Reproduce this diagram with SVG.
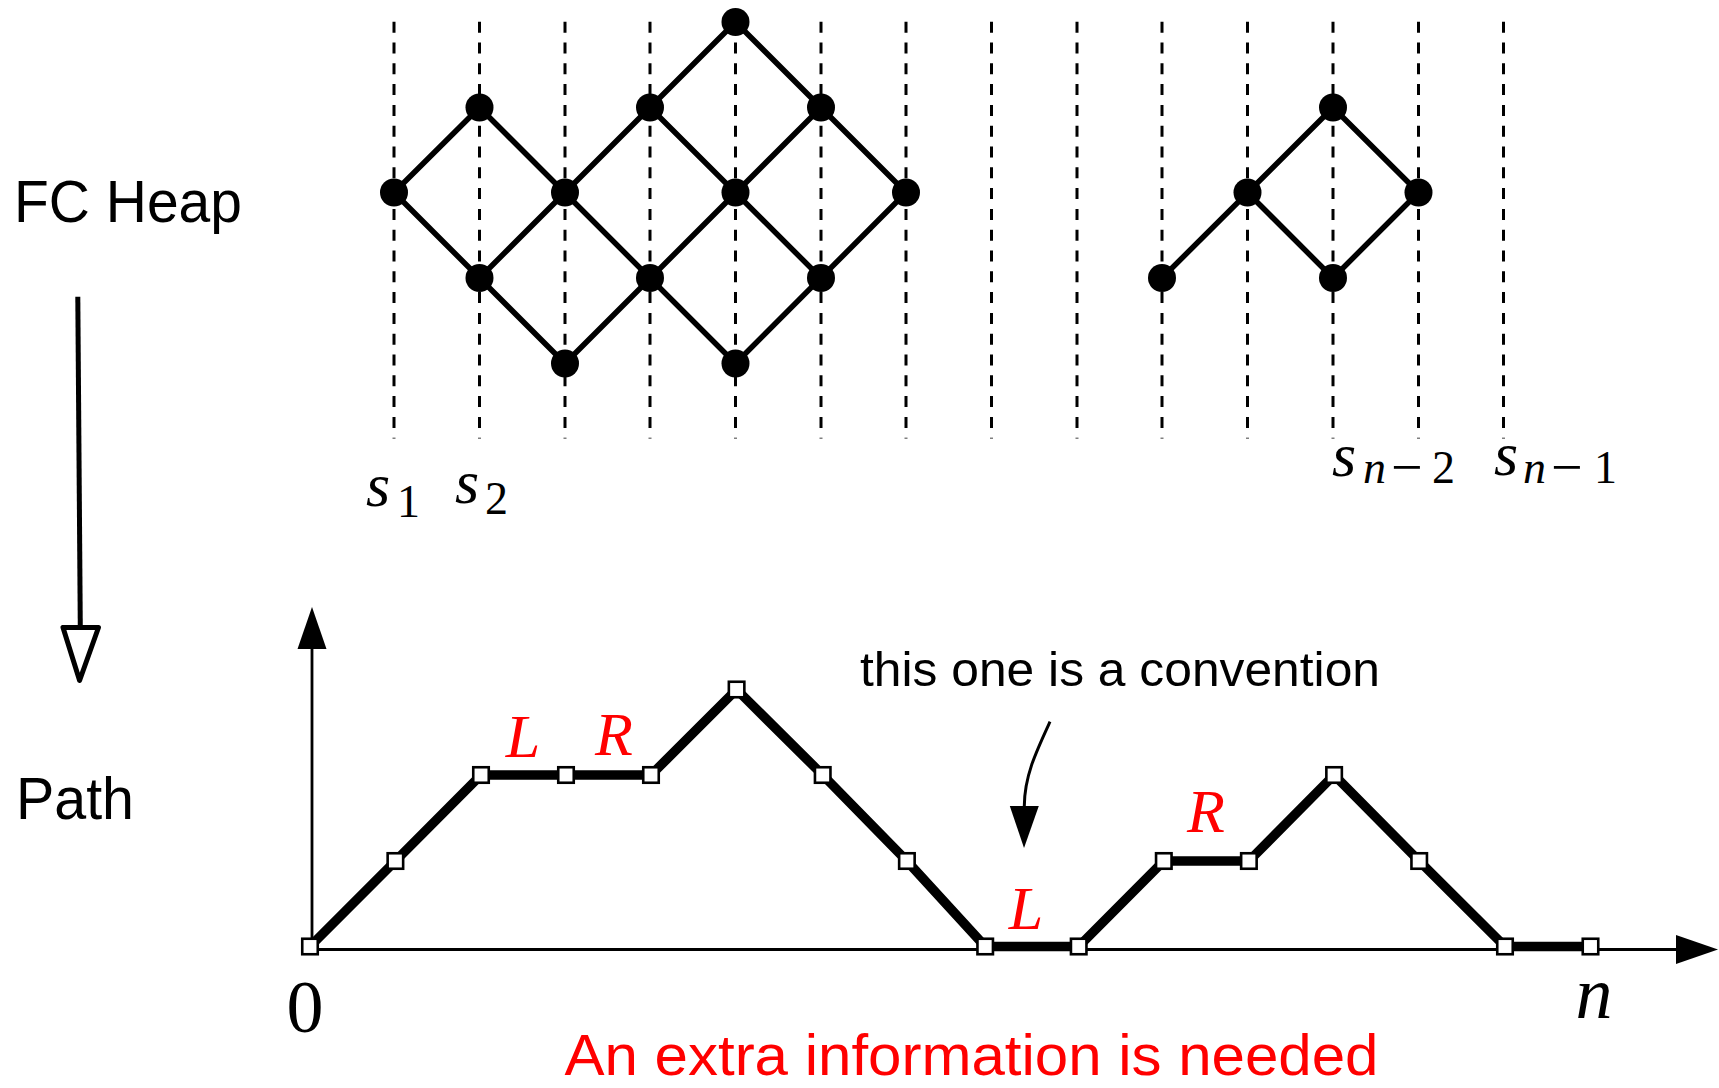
<svg xmlns="http://www.w3.org/2000/svg" width="1719" height="1088" viewBox="0 0 1719 1088">
  <style>
    .sans { font-family: "Liberation Sans", Arial, sans-serif; }
    .math { font-family: "Liberation Serif", "Times New Roman", serif; font-style: italic; }
    .rm { font-family: "Liberation Serif", "Times New Roman", serif; }
    .red { fill: #ff0000; }
    .grid { stroke: #000; stroke-width: 3; stroke-dasharray: 11 9.8; fill: none; }
    .edge { stroke: #000; stroke-width: 5.5; fill: none; stroke-linecap: round; }
    .hnode { fill: #000; }
    .seg { stroke: #000; stroke-width: 9.5; fill: none; stroke-linejoin: round; }
    .axis { stroke: #000; stroke-width: 2.8; fill: none; }
    .pnode { fill: #fff; stroke: #000; stroke-width: 2.6; }
  </style>
  <defs>
    <marker id="ah" markerUnits="userSpaceOnUse" markerWidth="44" markerHeight="30" refX="0" refY="14.5" orient="auto" overflow="visible">
      <path d="M0,0 L42,14.5 L0,29 Z" fill="#000"/>
    </marker>
  </defs>

  <!-- dashed vertical guide lines -->
  <g id="guides">
    <line class="grid" x1="394" y1="21.7" x2="394" y2="438.5"/>
    <line class="grid" x1="479.5" y1="21.7" x2="479.5" y2="438.5"/>
    <line class="grid" x1="565" y1="21.7" x2="565" y2="438.5"/>
    <line class="grid" x1="650" y1="21.7" x2="650" y2="438.5"/>
    <line class="grid" x1="735.5" y1="21.7" x2="735.5" y2="438.5"/>
    <line class="grid" x1="821" y1="21.7" x2="821" y2="438.5"/>
    <line class="grid" x1="906" y1="21.7" x2="906" y2="438.5"/>
    <line class="grid" x1="991.5" y1="21.7" x2="991.5" y2="438.5"/>
    <line class="grid" x1="1077" y1="21.7" x2="1077" y2="438.5"/>
    <line class="grid" x1="1162" y1="21.7" x2="1162" y2="438.5"/>
    <line class="grid" x1="1247.5" y1="21.7" x2="1247.5" y2="438.5"/>
    <line class="grid" x1="1333" y1="21.7" x2="1333" y2="438.5"/>
    <line class="grid" x1="1418.5" y1="21.7" x2="1418.5" y2="438.5"/>
    <line class="grid" x1="1503.5" y1="21.7" x2="1503.5" y2="438.5"/>
  </g>

  <!-- connectors -->
  <g id="connectors">
    <!-- heap edges -->
    <line class="edge" x1="394" y1="192.5" x2="479.5" y2="107.5"/>
    <line class="edge" x1="479.5" y1="278" x2="735.5" y2="22"/>
    <line class="edge" x1="565" y1="363.5" x2="821" y2="107.5"/>
    <line class="edge" x1="735.5" y1="363.5" x2="906" y2="192.5"/>
    <line class="edge" x1="394" y1="192.5" x2="565" y2="363.5"/>
    <line class="edge" x1="479.5" y1="107.5" x2="735.5" y2="363.5"/>
    <line class="edge" x1="650" y1="107.5" x2="821" y2="278"/>
    <line class="edge" x1="735.5" y1="22" x2="906" y2="192.5"/>
    <line class="edge" x1="1162" y1="278" x2="1333" y2="107.5"/>
    <line class="edge" x1="1247.5" y1="192.5" x2="1333" y2="278"/>
    <line class="edge" x1="1333" y1="278" x2="1418.5" y2="192.5"/>
    <line class="edge" x1="1333" y1="107.5" x2="1418.5" y2="192.5"/>

    <!-- big transformation arrow -->
    <line x1="77.8" y1="296.7" x2="80.3" y2="627.5" stroke="#000" stroke-width="5"/>
    <polygon points="63,627.5 98.5,627.5 79.6,680.5" fill="#fff" stroke="#000" stroke-width="5" stroke-linejoin="round"/>

    <!-- axes -->
    <line class="axis" x1="312" y1="949.5" x2="1676" y2="949.5" marker-end="url(#ah)"/>
    <line class="axis" x1="312" y1="949.5" x2="312" y2="649" marker-end="url(#ah)"/>

    <!-- path -->
    <polyline class="seg" points="310,946.5 395.4,861 481,775 566,775 651,775 736.6,689.5 822.7,775 906.9,861 985.2,946.5 1078.7,946.5 1163.8,861 1248.9,861 1334.1,775 1419.2,861 1505,946.5 1590.5,946.5"/>

    <!-- curved annotation arrow -->
    <path d="M1050,721.7 C1036,752 1024.5,776 1024.3,806" stroke="#000" stroke-width="3" fill="none" marker-end="url(#ah)"/>
  </g>

  <!-- heap nodes -->
  <g id="heap-nodes">
    <g id="h-4-0"><circle class="hnode" cx="735.5" cy="22" r="14"/></g>
    <g id="h-1-1"><circle class="hnode" cx="479.5" cy="107.5" r="14"/></g>
    <g id="h-3-1"><circle class="hnode" cx="650" cy="107.5" r="14"/></g>
    <g id="h-5-1"><circle class="hnode" cx="821" cy="107.5" r="14"/></g>
    <g id="h-11-1"><circle class="hnode" cx="1333" cy="107.5" r="14"/></g>
    <g id="h-0-2"><circle class="hnode" cx="394" cy="192.5" r="14"/></g>
    <g id="h-2-2"><circle class="hnode" cx="565" cy="192.5" r="14"/></g>
    <g id="h-4-2"><circle class="hnode" cx="735.5" cy="192.5" r="14"/></g>
    <g id="h-6-2"><circle class="hnode" cx="906" cy="192.5" r="14"/></g>
    <g id="h-10-2"><circle class="hnode" cx="1247.5" cy="192.5" r="14"/></g>
    <g id="h-12-2"><circle class="hnode" cx="1418.5" cy="192.5" r="14"/></g>
    <g id="h-1-3"><circle class="hnode" cx="479.5" cy="278" r="14"/></g>
    <g id="h-3-3"><circle class="hnode" cx="650" cy="278" r="14"/></g>
    <g id="h-5-3"><circle class="hnode" cx="821" cy="278" r="14"/></g>
    <g id="h-9-3"><circle class="hnode" cx="1162" cy="278" r="14"/></g>
    <g id="h-11-3"><circle class="hnode" cx="1333" cy="278" r="14"/></g>
    <g id="h-2-4"><circle class="hnode" cx="565" cy="363.5" r="14"/></g>
    <g id="h-4-4"><circle class="hnode" cx="735.5" cy="363.5" r="14"/></g>
  </g>

  <!-- path nodes -->
  <g id="path-nodes">
    <g id="p0"><rect class="pnode" x="302.25" y="938.75" width="15.5" height="15.5"/></g>
    <g id="p1"><rect class="pnode" x="387.65" y="853.25" width="15.5" height="15.5"/></g>
    <g id="p2"><rect class="pnode" x="473.25" y="767.25" width="15.5" height="15.5"/></g>
    <g id="p3"><rect class="pnode" x="558.25" y="767.25" width="15.5" height="15.5"/></g>
    <g id="p4"><rect class="pnode" x="643.25" y="767.25" width="15.5" height="15.5"/></g>
    <g id="p5"><rect class="pnode" x="728.85" y="681.75" width="15.5" height="15.5"/></g>
    <g id="p6"><rect class="pnode" x="814.95" y="767.25" width="15.5" height="15.5"/></g>
    <g id="p7"><rect class="pnode" x="899.15" y="853.25" width="15.5" height="15.5"/></g>
    <g id="p8"><rect class="pnode" x="977.45" y="938.75" width="15.5" height="15.5"/></g>
    <g id="p9"><rect class="pnode" x="1070.95" y="938.75" width="15.5" height="15.5"/></g>
    <g id="p10"><rect class="pnode" x="1156.05" y="853.25" width="15.5" height="15.5"/></g>
    <g id="p11"><rect class="pnode" x="1241.15" y="853.25" width="15.5" height="15.5"/></g>
    <g id="p12"><rect class="pnode" x="1326.35" y="767.25" width="15.5" height="15.5"/></g>
    <g id="p13"><rect class="pnode" x="1411.45" y="853.25" width="15.5" height="15.5"/></g>
    <g id="p14"><rect class="pnode" x="1497.25" y="938.75" width="15.5" height="15.5"/></g>
    <g id="p15"><rect class="pnode" x="1582.75" y="938.75" width="15.5" height="15.5"/></g>
  </g>

  <!-- labels -->
  <g id="labels">
    <text class="sans" x="14" y="221.7" font-size="60" textLength="228" lengthAdjust="spacingAndGlyphs">FC Heap</text>
    <text class="sans" x="16" y="818.5" font-size="60" textLength="118" lengthAdjust="spacingAndGlyphs">Path</text>

    <text class="math" x="366" y="506" font-size="62">s</text>
    <text class="rm" x="397" y="517" font-size="46">1</text>
    <text class="math" x="455" y="503" font-size="62">s</text>
    <text class="rm" x="485" y="514" font-size="46">2</text>

    <text class="math" x="1332" y="476" font-size="62">s</text>
    <text y="483" font-size="46"><tspan class="math" x="1363">n</tspan><tspan class="rm" x="1391" font-size="56" dy="3">−</tspan><tspan class="rm" x="1432" dy="-3">2</tspan></text>
    <text class="math" x="1494" y="475" font-size="62">s</text>
    <text y="483" font-size="46"><tspan class="math" x="1523">n</tspan><tspan class="rm" x="1551" font-size="56" dy="3">−</tspan><tspan class="rm" x="1594" dy="-3">1</tspan></text>

    <text class="math red" x="523" y="757" font-size="62" text-anchor="middle">L</text>
    <text class="math red" x="614" y="755" font-size="62" text-anchor="middle">R</text>
    <text class="math red" x="1206" y="832" font-size="62" text-anchor="middle">R</text>
    <text class="math red" x="1026" y="929" font-size="62" text-anchor="middle">L</text>

    <text class="rm" x="305" y="1032" font-size="74" text-anchor="middle">0</text>
    <text class="math" x="1594" y="1018" font-size="74" text-anchor="middle">n</text>

    <text class="sans" x="860" y="686" font-size="48" textLength="520" lengthAdjust="spacingAndGlyphs">this one is a convention</text>
    <text class="sans red" x="564.5" y="1075" font-size="58" textLength="814" lengthAdjust="spacingAndGlyphs">An extra information is needed</text>
  </g>
</svg>
